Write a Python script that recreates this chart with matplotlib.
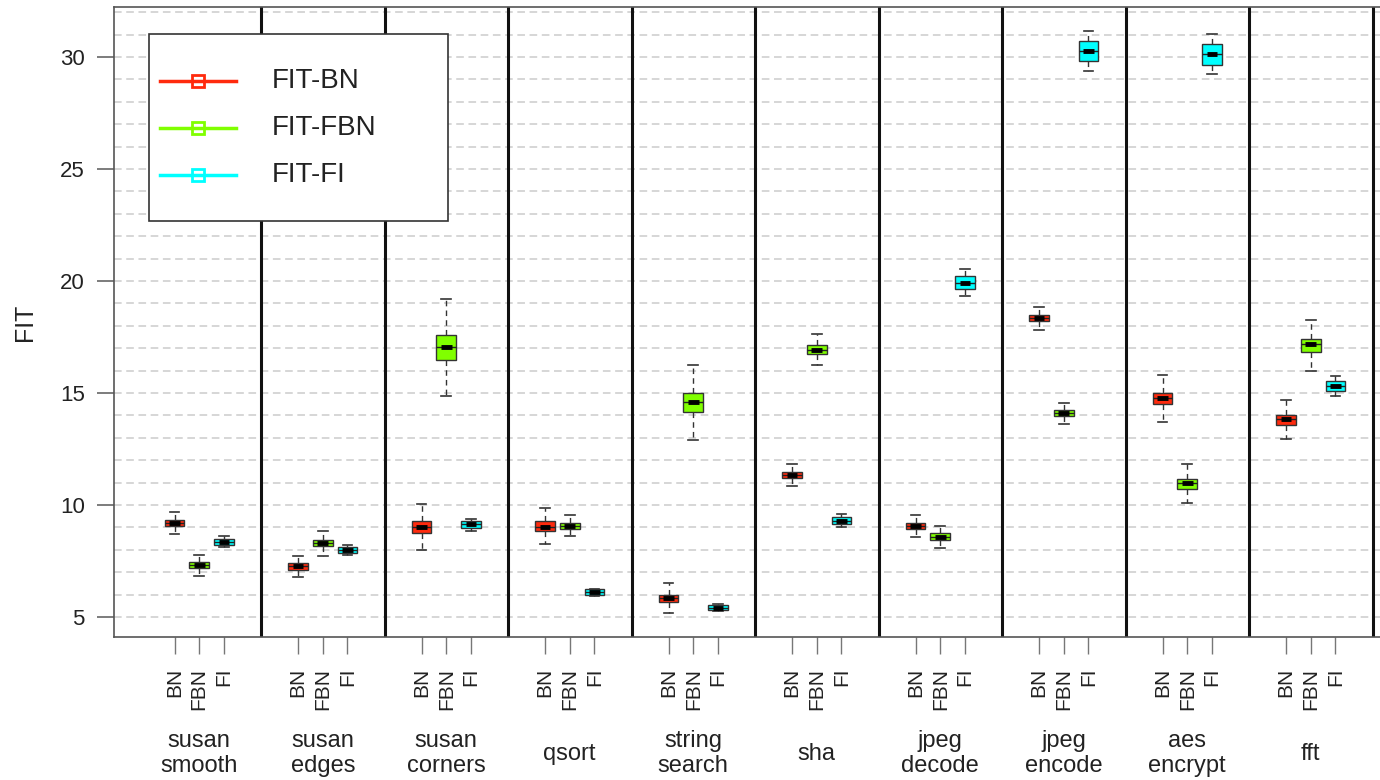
import matplotlib
matplotlib.use('Agg')
import matplotlib.pyplot as plt
from matplotlib.lines import Line2D
from matplotlib.patches import Rectangle
from matplotlib.ticker import MultipleLocator

plt.rcParams['font.family'] = ['Liberation Sans', 'DejaVu Sans']

# ---------------- data ----------------
BENCHMARKS = ['susan\nsmooth', 'susan\nedges', 'susan\ncorners', 'qsort', 'string\nsearch',
              'sha', 'jpeg\ndecode', 'jpeg\nencode', 'aes\nencrypt', 'fft']
METHODS = ['BN', 'FBN', 'FI']
LEGEND_LABELS = ['FIT-BN', 'FIT-FBN', 'FIT-FI']
COLORS = ['#FF2A0D', '#80FF00', '#00FFFF']
Y_TICKS = [5, 10, 15, 20, 25, 30]

BN_LO  = [8.72, 6.79, 7.98, 8.26, 5.17, 10.86, 8.58, 17.81, 13.69, 12.93]
BN_Q1  = [9.06, 7.11, 8.74, 8.84, 5.66, 11.22, 8.94, 18.20, 14.50, 13.59]
BN_MED = [9.20, 7.26, 9.02, 9.03, 5.83, 11.35, 9.06, 18.33, 14.76, 13.83]
BN_Q3  = [9.33, 7.41, 9.29, 9.27, 6.00, 11.47, 9.21, 18.50, 15.01, 14.02]
BN_HI  = [9.67, 7.74, 10.04, 9.85, 6.53, 11.83, 9.55, 18.85, 15.82, 14.67]

FBN_LO  = [6.82, 7.74, 14.87, 8.60, 12.89, 16.26, 8.07, 13.62, 10.09, 16.00]
FBN_Q1  = [7.17, 8.16, 16.47, 8.94, 14.15, 16.76, 8.45, 13.97, 10.73, 16.84]
FBN_MED = [7.31, 8.30, 17.07, 9.08, 14.61, 16.93, 8.58, 14.11, 10.97, 17.19]
FBN_Q3  = [7.45, 8.44, 17.58, 9.20, 15.00, 17.13, 8.73, 14.23, 11.15, 17.40]
FBN_HI  = [7.78, 8.85, 19.20, 9.55, 16.26, 17.63, 9.06, 14.57, 11.82, 18.28]

FI_LO  = [8.11, 7.75, 8.85, 5.94, 5.27, 9.02, 19.33, 29.38, 29.23, 14.85]
FI_Q1  = [8.23, 7.87, 8.97, 5.98, 5.30, 9.15, 19.63, 29.81, 29.66, 15.08]
FI_MED = [8.36, 7.99, 9.14, 6.10, 5.42, 9.30, 19.92, 30.27, 30.13, 15.31]
FI_Q3  = [8.50, 8.11, 9.27, 6.24, 5.55, 9.45, 20.24, 30.73, 30.58, 15.54]
FI_HI  = [8.62, 8.23, 9.39, 6.26, 5.57, 9.58, 20.52, 31.18, 31.03, 15.76]

SERIES = [
    (BN_LO, BN_Q1, BN_MED, BN_Q3, BN_HI),
    (FBN_LO, FBN_Q1, FBN_MED, FBN_Q3, FBN_HI),
    (FI_LO, FI_Q1, FI_MED, FI_Q3, FI_HI),
]

# ---------------- figure ----------------
W, H = 1380, 780
fig = plt.figure(figsize=(W / 100, H / 100), dpi=100)
ax_left, ax_right, ax_top, ax_bot = 114, 1380, 7, 637
ax = fig.add_axes([ax_left / W, 1 - ax_bot / H, (ax_right - ax_left) / W, (ax_bot - ax_top) / H])

GROUP = 5
BOX_W = 0.8
all_pos, all_lab = [], []
for m, (lo, q1, med, q3, hi) in enumerate(SERIES):
    stats, pos = [], []
    for g in range(len(BENCHMARKS)):
        stats.append(dict(whislo=lo[g], q1=q1[g], med=med[g], q3=q3[g], whishi=hi[g], fliers=[]))
        pos.append(GROUP * g + 1.5 + m)
    ax.bxp(stats, positions=pos, widths=BOX_W, patch_artist=True, showfliers=False,
           manage_ticks=False, capwidths=0.4,
           boxprops=dict(facecolor=COLORS[m], edgecolor='#333333', linewidth=1.0),
           medianprops=dict(color='#222222', linewidth=1.0),
           whiskerprops=dict(color='#333333', linestyle=(0, (4, 3)), linewidth=1.0),
           capprops=dict(color='#333333', linewidth=1.2), zorder=3)
    # thick central part of the median (notch width)
    ax.hlines(med, [p - 0.22 for p in pos], [p + 0.22 for p in pos], colors='black',
              linewidth=3.5, zorder=4)
    all_pos += pos
    all_lab += [METHODS[m]] * len(pos)

order = sorted(range(len(all_pos)), key=lambda i: all_pos[i])
ax.set_xticks([all_pos[i] for i in order])
ax.set_xticklabels([all_lab[i] for i in order], rotation=90, fontsize=15, color='#222222')
ax.tick_params(axis='x', length=12, pad=10, color='#777777', width=1.0)

# group separators
for g in range(len(BENCHMARKS)):
    ax.axvline(GROUP * (g + 1), color='#111111', lw=2.2, zorder=2)

# group labels
for g, name in enumerate(BENCHMARKS):
    ax.text(GROUP * g + 2.5, -0.185, name, transform=ax.get_xaxis_transform(),
            ha='center', va='center', fontsize=17, linespacing=1.15, color='#222222')

px_per_unit = 24.7
ax.set_xlim(-(137.5 - ax_left) / px_per_unit, (ax_right - 137.5) / px_per_unit)
ax.set_ylim(4.107, 32.23)
ax.set_yticks(Y_TICKS)
ax.set_yticklabels([str(t) for t in Y_TICKS], fontsize=16, color='#222222')
ax.yaxis.set_minor_locator(MultipleLocator(1))
ax.tick_params(axis='y', which='major', length=12, pad=9, color='#666666', width=1.2)
ax.tick_params(axis='y', which='minor', length=0)
ax.grid(which='both', axis='y', linestyle=(0, (5, 3)), color='#cccccc', lw=1.1, zorder=0)
ax.set_axisbelow(True)

for s in ['left', 'bottom', 'top']:
    ax.spines[s].set_color('#555555')
    ax.spines[s].set_linewidth(1.2)
ax.spines['right'].set_visible(False)

fig.text(25 / W, 1 - 322 / H, 'FIT', rotation=90, ha='center', va='center', fontsize=18, color='#222222')

# legend (drawn manually to match the box geometry)
def fx(x): return x / W
def fy(y): return 1 - y / H

rect = Rectangle((fx(149), fy(221)), fx(448) - fx(149), fy(34) - fy(221), transform=fig.transFigure,
                 facecolor='white', edgecolor='#333333', linewidth=1.2, zorder=10)
fig.add_artist(rect)
for i, (lab, c) in enumerate(zip(LEGEND_LABELS, COLORS)):
    yy = fy(81 + 47 * i)
    fig.add_artist(Line2D([fx(160), fx(236)], [yy, yy], transform=fig.transFigure, color=c, lw=2.5, zorder=11))
    fig.add_artist(Line2D([fx(198)], [yy], transform=fig.transFigure, marker='s', ms=8, mfc='none',
                          mec=c, mew=2, zorder=12))
    fig.text(fx(272), yy, lab, ha='left', va='center', fontsize=20, color='#222222', zorder=12)

fig.savefig('out.png', dpi=100)
